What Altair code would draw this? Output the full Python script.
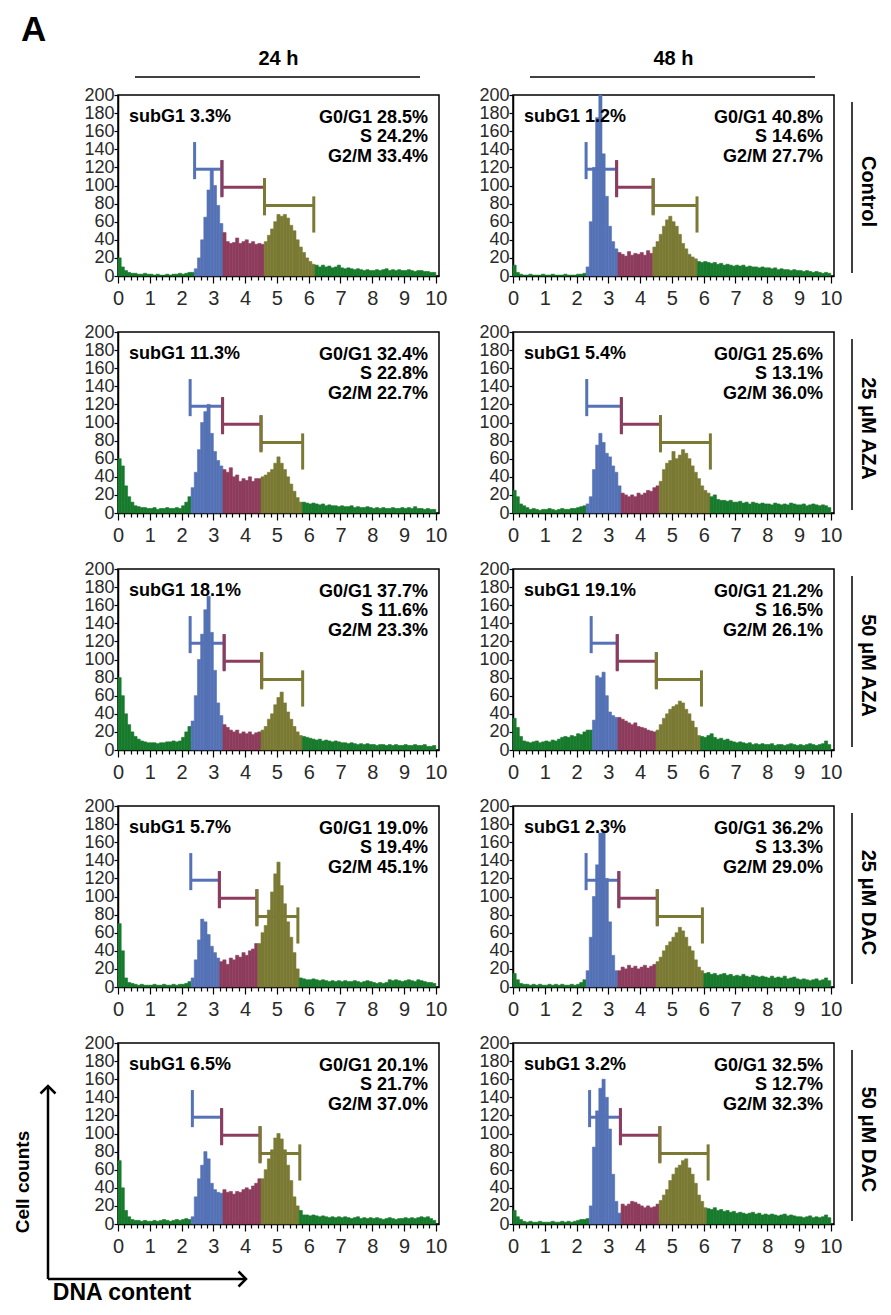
import altair as alt
import pandas as pd

# ---------------- data ----------------
ROW_LABELS = ["Control", "25 μM AZA", "50 μM AZA", "25 μM DAC", "50 μM DAC"]
TIME_LABELS = ["24 h", "48 h"]
PHASES = ["other", "G0/G1", "S", "G2/M"]
PHASE_COLORS = ["#177a2c", "#5472b5", "#8d3c5d", "#7b7a34"]
GATE_LEVELS = [118, 98, 78]
X_TICKS = [round(k * 0.2, 1) for k in range(51)]
Y_TICKS = list(range(0, 201, 20))
BIN_STARTS = [round(i * 0.1, 1) for i in range(100)]

counts_24h_control = [20,10,6,4,3,3,2,2,3,2, 2,1,2,1,1,2,1,2,2,3,
    2,3,4,4,8,20,40,65,95,118, 100,78,58,48,38,36,37,42,36,38,
    40,36,38,35,36,35,38,45,52,60, 68,66,68,64,56,50,40,32,26,20,
    16,13,12,10,12,10,11,9,10,12, 9,8,9,8,7,8,7,6,7,6,
    6,7,6,7,8,6,7,6,7,6, 6,7,6,5,6,6,5,5,4,4]
counts_48h_control = [12,4,2,1,1,2,1,1,1,2, 1,1,2,1,1,1,2,1,1,1,
    2,2,3,10,60,120,175,200,135,88, 55,38,30,26,24,22,27,23,25,24,
    26,23,28,25,32,38,46,55,62,66, 60,55,46,36,30,24,21,19,16,15,
    16,15,14,15,13,14,12,13,12,11, 12,11,12,10,11,10,10,9,10,9,
    9,8,9,7,8,7,7,6,7,6, 6,5,6,5,4,5,4,3,4,3]
counts_24h_aza25 = [60,52,30,18,12,8,7,6,6,5, 5,6,4,5,5,6,5,5,6,5,
    8,12,18,28,45,70,100,112,120,88, 68,58,52,48,45,50,40,42,35,38,
    36,40,35,38,38,40,42,45,48,55, 62,55,48,40,32,24,17,12,12,11,
    10,11,10,9,10,8,9,8,8,7, 8,7,7,8,6,7,6,6,7,6,
    5,6,5,6,5,5,6,5,5,6, 5,6,5,7,5,5,4,5,4,4]
counts_48h_aza25 = [25,18,10,8,6,4,5,4,3,4, 4,5,4,3,4,5,4,4,5,5,
    6,7,8,10,18,48,75,88,78,66, 62,52,45,30,22,20,18,20,18,22,
    20,22,25,24,28,30,35,48,55,58, 68,60,64,70,66,60,52,45,38,30,
    25,22,18,20,15,14,14,13,14,12, 12,13,11,12,10,12,11,10,11,10,
    10,9,11,10,9,10,9,11,10,9, 9,10,8,9,10,9,8,9,8,6]
counts_24h_aza50 = [80,60,40,28,20,15,12,10,9,8, 8,8,7,8,8,9,9,10,9,10,
    14,20,26,32,60,100,128,155,170,130, 88,52,38,28,25,22,20,22,18,20,
    18,20,17,19,20,22,26,34,40,50, 58,64,52,42,34,26,20,16,15,14,
    13,12,11,12,10,11,10,9,10,9, 8,8,7,8,7,6,7,6,7,6,
    6,5,6,6,5,6,5,6,5,5, 6,5,5,6,5,5,6,4,4,5]
counts_48h_aza50 = [35,25,15,10,9,8,9,10,8,9, 10,9,11,10,12,14,15,14,16,15,
    18,17,20,22,22,33,82,80,86,60, 42,38,36,36,34,32,30,28,30,26,
    25,24,22,21,20,22,28,35,40,45, 48,50,54,52,45,40,32,25,16,15,
    14,16,18,14,12,13,11,12,10,9, 8,9,8,7,8,6,7,6,7,6,
    6,7,5,6,6,5,6,7,6,5, 6,5,6,7,6,5,6,7,10,6]
counts_24h_dac25 = [70,40,10,5,4,3,2,3,2,2, 2,3,2,2,3,2,2,3,2,3,
    3,4,6,10,30,52,75,72,58,45, 38,32,28,30,25,32,30,35,33,38,
    35,40,42,48,48,60,68,85,105,125, 138,112,92,72,55,38,20,10,9,8,
    8,9,8,7,8,7,6,7,6,7, 6,7,6,6,7,6,5,6,7,6,
    5,4,5,4,5,8,7,8,7,6, 7,8,7,6,8,7,6,5,5,4]
counts_48h_dac25 = [15,8,4,3,3,2,3,2,3,2, 2,3,2,3,2,3,2,2,3,2,
    3,5,8,18,55,100,135,170,172,120, 72,35,18,18,22,20,24,21,23,20,
    22,24,21,23,25,28,33,40,46,50, 55,60,66,62,55,45,40,30,22,18,
    15,16,14,15,13,14,15,13,14,12, 13,12,14,12,11,13,12,11,12,11,
    10,12,10,11,10,12,9,10,11,9, 8,9,8,7,8,9,7,8,10,7]
counts_24h_dac50 = [70,40,15,8,5,4,4,3,4,3, 3,4,3,4,5,4,3,4,5,4,
    5,6,5,8,30,50,65,80,72,45, 38,35,34,38,35,36,33,36,35,38,
    40,38,42,45,50,50,60,72,82,95, 100,94,82,65,48,30,20,15,10,10,
    9,10,9,8,9,8,7,8,7,8, 7,8,7,6,7,8,6,7,6,7,
    6,7,6,5,6,7,6,5,6,6, 7,6,7,6,7,8,7,8,6,4]
counts_48h_dac50 = [15,8,5,3,2,3,2,2,3,2, 2,2,3,2,2,3,2,3,2,3,
    4,5,5,6,20,85,125,150,160,140, 105,55,25,12,22,20,22,25,24,22,
    20,18,20,18,19,22,26,32,38,48, 55,62,65,70,72,62,55,45,32,25,
    18,17,16,18,15,16,14,15,13,14, 12,13,12,11,12,13,11,12,10,11,
    10,11,10,9,10,11,9,10,9,8, 8,7,8,9,7,8,7,8,10,7]

# gate boundaries: G0/G1 start, S start, G2/M start, G2/M end
gates_24h_control = [2.41, 3.27, 4.61, 6.16]
gates_48h_control = [2.30, 3.26, 4.41, 5.79]
gates_24h_aza25 = [2.27, 3.29, 4.50, 5.81]
gates_48h_aza25 = [2.32, 3.41, 4.64, 6.21]
gates_24h_aza50 = [2.27, 3.34, 4.52, 5.81]
gates_48h_aza50 = [2.46, 3.28, 4.51, 5.93]
gates_24h_dac25 = [2.29, 3.19, 4.37, 5.66]
gates_48h_dac25 = [2.30, 3.33, 4.54, 5.96]
gates_24h_dac50 = [2.34, 3.26, 4.47, 5.72]
gates_48h_dac50 = [2.41, 3.38, 4.62, 6.14]

stats_24h_control = ["subG1 3.3%", "G0/G1 28.5%", "S 24.2%", "G2/M 33.4%"]
stats_48h_control = ["subG1 1.2%", "G0/G1 40.8%", "S 14.6%", "G2/M 27.7%"]
stats_24h_aza25 = ["subG1 11.3%", "G0/G1 32.4%", "S 22.8%", "G2/M 22.7%"]
stats_48h_aza25 = ["subG1 5.4%", "G0/G1 25.6%", "S 13.1%", "G2/M 36.0%"]
stats_24h_aza50 = ["subG1 18.1%", "G0/G1 37.7%", "S 11.6%", "G2/M 23.3%"]
stats_48h_aza50 = ["subG1 19.1%", "G0/G1 21.2%", "S 16.5%", "G2/M 26.1%"]
stats_24h_dac25 = ["subG1 5.7%", "G0/G1 19.0%", "S 19.4%", "G2/M 45.1%"]
stats_48h_dac25 = ["subG1 2.3%", "G0/G1 36.2%", "S 13.3%", "G2/M 29.0%"]
stats_24h_dac50 = ["subG1 6.5%", "G0/G1 20.1%", "S 21.7%", "G2/M 37.0%"]
stats_48h_dac50 = ["subG1 3.2%", "G0/G1 32.5%", "S 12.7%", "G2/M 32.3%"]

COUNTS = [[counts_24h_control, counts_48h_control], [counts_24h_aza25, counts_48h_aza25],
          [counts_24h_aza50, counts_48h_aza50], [counts_24h_dac25, counts_48h_dac25],
          [counts_24h_dac50, counts_48h_dac50]]
GATES = [[gates_24h_control, gates_48h_control], [gates_24h_aza25, gates_48h_aza25],
         [gates_24h_aza50, gates_48h_aza50], [gates_24h_dac25, gates_48h_dac25],
         [gates_24h_dac50, gates_48h_dac50]]
STATS = [[stats_24h_control, stats_48h_control], [stats_24h_aza25, stats_48h_aza25],
         [stats_24h_aza50, stats_48h_aza50], [stats_24h_dac25, stats_48h_dac25],
         [stats_24h_dac50, stats_48h_dac50]]

# ---------------- chart ----------------
W, H = 321, 181
FONT = "Liberation Sans"
one = pd.DataFrame({"k": [0]})

x_axis = alt.Axis(values=X_TICKS, labelExpr="datum.value % 1 === 0 ? format(datum.value, 'd') : ''",
                  tickSize={"condition": {"test": "datum.value % 1 === 0", "value": 7}, "value": 4},
                  labelFontSize=20, labelFlush=False, labelOverlap=False, labelPadding=5,
                  grid=False, title=None)
y_axis = alt.Axis(values=Y_TICKS, labelFontSize=18, tickSize=4, labelPadding=0,
                  labelOverlap=False, grid=False, title=None)
x_scale = alt.Scale(domain=[0, 10.1], nice=False, zero=False)
y_scale = alt.Scale(domain=[0, 200], nice=False)


def phase_of(center, g):
    if g[0] <= center < g[1]:
        return "G0/G1"
    if g[1] <= center < g[2]:
        return "S"
    if g[2] <= center < g[3]:
        return "G2/M"
    return "other"


def txt(s, x, y, align="left", size=18, angle=0, baseline="middle"):
    return alt.Chart(one).mark_text(text=s, align=align, baseline=baseline, font=FONT, fontSize=size,
                                    fontWeight="bold", color="black", angle=angle).encode(
        x=alt.value(x), y=alt.value(y))


def panel(r, c):
    counts, g, st = COUNTS[r][c], GATES[r][c], STATS[r][c]
    assert len(counts) == 100
    hist = pd.DataFrame({"x": BIN_STARTS, "x2": [round(b + 0.1, 1) for b in BIN_STARTS],
                         "count": counts, "base": [0] * len(BIN_STARTS)})
    hist["phase"] = [phase_of(round(b + 0.05, 2), g) for b in BIN_STARTS]
    gates = pd.DataFrame({"start": g[:3], "end": g[1:], "level": GATE_LEVELS, "phase": PHASES[1:]})
    cscale = alt.Scale(domain=PHASES, range=PHASE_COLORS)
    color = alt.Color("phase:N", scale=cscale, legend=None)

    bars = alt.Chart(hist).mark_rect(strokeWidth=0.6).encode(
        x=alt.X("x:Q", scale=x_scale, axis=x_axis),
        x2="x2:Q",
        y=alt.Y("count:Q", scale=y_scale, axis=y_axis),
        y2="base:Q",
        color=color,
        stroke=alt.Stroke("phase:N", scale=cscale, legend=None))
    gb = alt.Chart(gates)
    hline = gb.mark_rule(strokeWidth=3).encode(
        x=alt.X("start:Q", scale=x_scale, axis=x_axis), x2="end:Q",
        y=alt.Y("level:Q", scale=y_scale, axis=y_axis), color=color)
    rcap = gb.transform_calculate(lo="datum.level - 30", hi="datum.level + 10").mark_rule(strokeWidth=3).encode(
        x=alt.X("end:Q", scale=x_scale, axis=x_axis),
        y=alt.Y("lo:Q", scale=y_scale, axis=y_axis), y2="hi:Q", color=color)
    lcap = gb.transform_calculate(lo="datum.level - 11", hi="datum.level + 30").mark_rule(strokeWidth=3).encode(
        x=alt.X("start:Q", scale=x_scale, axis=x_axis),
        y=alt.Y("lo:Q", scale=y_scale, axis=y_axis), y2="hi:Q", color=color)

    layers = [bars, hline, rcap, lcap,
              txt(st[0], 11, 22, "left"),
              txt(st[1], W - 11, 23, "right"),
              txt(st[2], W - 11, 42, "right"),
              txt(st[3], W - 11, 62, "right")]

    if r == 0:
        layers.append(txt(TIME_LABELS[c], W / 2, -36, "center", size=20))
        layers.append(alt.Chart(one).mark_rule(color="black", strokeWidth=1.5).encode(
            x=alt.value(17), x2=alt.value(302), y=alt.value(-18)))
    if c == 1:
        layers.append(txt(ROW_LABELS[r], W + 34, H / 2 + 6, "center", size=20, angle=90))
        layers.append(alt.Chart(one).mark_rule(color="black", strokeWidth=1.5).encode(
            x=alt.value(W + 18), y=alt.value(7), y2=alt.value(H - 3)))
    if r == 0 and c == 0:
        layers.append(txt("A", -97, -82, "left", size=35, baseline="top"))
    if r == 4 and c == 0:
        layers.append(alt.Chart(one).mark_rule(color="black", strokeWidth=2.5).encode(
            x=alt.value(-70), y=alt.value(43), y2=alt.value(236)))
        layers.append(alt.Chart(one).mark_rule(color="black", strokeWidth=2.5).encode(
            x=alt.value(-70), x2=alt.value(128), y=alt.value(236)))
        layers.append(alt.Chart(one).mark_point(shape="M -1 1 L 0 0 L 1 1", filled=False, size=225,
                                                color="black", strokeWidth=2.5, opacity=1).encode(
            x=alt.value(-70), y=alt.value(43)))
        layers.append(alt.Chart(one).mark_point(shape="M -1 -1 L 0 0 L -1 1", filled=False, size=225,
                                                color="black", strokeWidth=2.5, opacity=1).encode(
            x=alt.value(128), y=alt.value(236)))
        layers.append(txt("Cell counts", -95, 139, "center", size=19, angle=270))
        layers.append(txt("DNA content", 4, 262, "center", size=23, baseline="bottom"))
    return alt.layer(*layers).properties(width=W, height=H)


panels = [panel(r, c) for r in range(5) for c in range(2)]

chart = alt.concat(*panels, columns=2, spacing={"row": 56, "column": 74}, bounds="flush").configure_view(
    stroke="black", strokeWidth=1.5
).configure_axis(
    domainColor="black", domainWidth=1.5, tickColor="black", tickWidth=1.2,
    labelColor="#2a2a2a", labelFont=FONT, labelOverlap=False
).properties(padding={"left": 5, "top": 4, "right": 0, "bottom": 0})

chart.save("out.html", embed_options={"renderer": "svg", "actions": False})
